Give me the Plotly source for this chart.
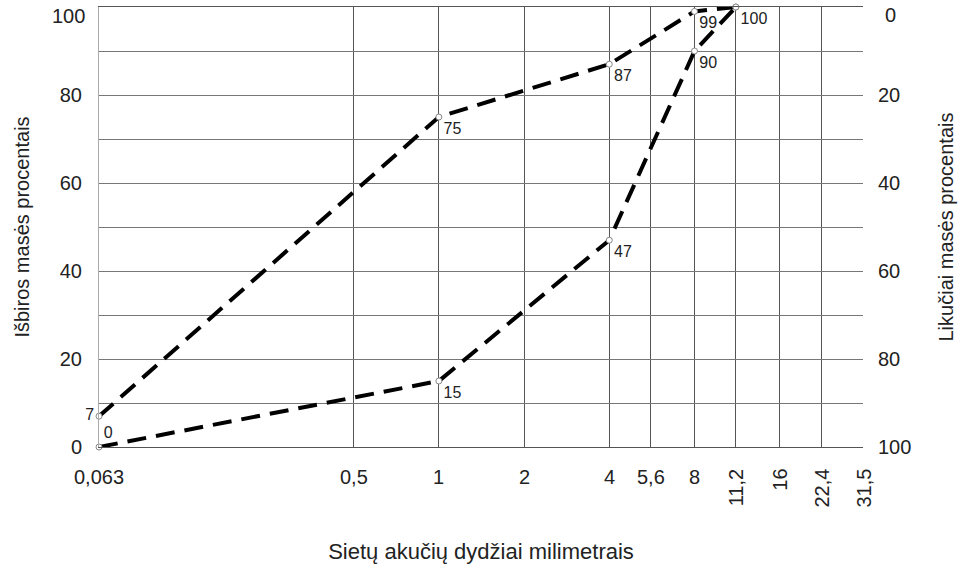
import numpy as np
import plotly.graph_objects as go

# Sieve sizes (mm) and tick labels
sieves = [0.063, 0.5, 1, 2, 4, 5.6, 8, 11.2, 16, 22.4, 31.5]
sieve_labels = ["0,063", "0,5", "1", "2", "4", "5,6", "8", "11,2", "16", "22,4", "31,5"]
rotated_labels = ["11,2", "16", "22,4", "31,5"]

# Upper grading limit (passing %)
upper_x = [0.063, 1, 4, 8, 11.2]
upper_y = [7, 75, 87, 99, 100]
upper_text = ["7", "75", "87", "99", "100"]
upper_pos = ["middle left", "bottom right", "bottom right", "bottom right", "bottom right"]

# Lower grading limit (passing %)
lower_x = [0.063, 1, 4, 8, 11.2]
lower_y = [0, 15, 47, 90, 100]
lower_text = ["0", "15", "47", "90", ""]
lower_pos = ["top right", "bottom right", "bottom right", "bottom right", "bottom right"]

left_ticks = [0, 20, 40, 60, 80, 100]
right_ticks = [0, 20, 40, 60, 80, 100]

font_family = "Liberation Sans, Arial, sans-serif"
txt_color = "#222222"
tick_size = 20

fig = go.Figure()

line_style = dict(color="black", width=4, dash="19px,10px")
marker_style = dict(symbol="circle", size=6, color="white", line=dict(color="#888888", width=1))

fig.add_trace(go.Scatter(
    x=upper_x, y=upper_y, mode="lines+markers+text",
    line=line_style, marker=marker_style,
    text=upper_text, textposition=upper_pos,
    textfont=dict(family=font_family, size=16, color=txt_color),
    showlegend=False, cliponaxis=False,
))
fig.add_trace(go.Scatter(
    x=lower_x, y=lower_y, mode="lines+markers+text",
    line=line_style, marker=marker_style,
    text=lower_text, textposition=lower_pos,
    textfont=dict(family=font_family, size=16, color=txt_color),
    showlegend=False, cliponaxis=False,
))
# invisible trace for right axis
fig.add_trace(go.Scatter(x=[1], y=[50], yaxis="y2", mode="markers",
                         marker=dict(opacity=0), showlegend=False, hoverinfo="skip"))

annotations = []
for v, lab in zip(sieves, sieve_labels):
    if lab in rotated_labels:
        annotations.append(dict(x=np.log10(v), xref="x", y=0, yref="paper",
                                text=lab, showarrow=False, textangle=-90,
                                xanchor="center", yanchor="top", yshift=-20,
                                font=dict(family=font_family, size=tick_size, color=txt_color)))
    else:
        annotations.append(dict(x=np.log10(v), xref="x", y=0, yref="paper",
                                text=lab, showarrow=False,
                                xanchor="center", yanchor="top", yshift=-17,
                                font=dict(family=font_family, size=tick_size, color=txt_color)))

# top tick labels (shifted down, as in the original)
annotations.append(dict(x=0, xref="paper", y=left_ticks[-1], yref="y",
                        text=str(left_ticks[-1]), showarrow=False,
                        xanchor="right", yanchor="middle", xshift=-12, yshift=-9,
                        font=dict(family=font_family, size=tick_size, color=txt_color)))
annotations.append(dict(x=1, xref="paper", y=100 - right_ticks[0], yref="y",
                        text=str(right_ticks[0]), showarrow=False,
                        xanchor="left", yanchor="middle", xshift=20, yshift=-8,
                        font=dict(family=font_family, size=tick_size, color=txt_color)))

fig.update_layout(
    width=961, height=573, autosize=False,
    margin=dict(l=99, r=98, t=7, b=126),
    paper_bgcolor="white", plot_bgcolor="white",
    font=dict(family=font_family, color=txt_color),
    xaxis=dict(
        type="log", range=[np.log10(0.063), np.log10(31.5)],
        tickvals=sieves, showticklabels=False,
        showgrid=True, gridcolor="#555555", gridwidth=1,
        showline=True, linecolor="#555555", linewidth=1, mirror=True,
        zeroline=False,
        title=dict(text="Sietų akučių dydžiai milimetrais",
                   font=dict(family=font_family, size=22, color=txt_color), standoff=96),
    ),
    yaxis=dict(
        range=[0, 100], tickvals=list(range(0, 101, 10)),
        ticktext=[str(v) if (v in left_ticks and v != left_ticks[-1]) else "" for v in range(0, 101, 10)],
        showgrid=True, gridcolor="#777777", gridwidth=1,
        showline=True, linecolor="#aaaaaa", linewidth=1,
        zeroline=False, ticks="", ticklabelstandoff=12,
        tickfont=dict(family=font_family, size=tick_size, color=txt_color),
        title=dict(text="Išbiros masės procentais",
                   font=dict(family=font_family, size=20, color=txt_color), standoff=24),
    ),
    yaxis2=dict(
        overlaying="y", side="right", range=[100, 0],
        tickvals=right_ticks, ticktext=["" if v == right_ticks[0] else str(v) for v in right_ticks],
        showgrid=False, zeroline=False, showline=False, ticks="",
        ticklabelstandoff=14,
        tickfont=dict(family=font_family, size=tick_size, color=txt_color),
        title=dict(text="Likučiai masės procentais",
                   font=dict(family=font_family, size=20, color=txt_color), standoff=28),
    ),
    annotations=annotations,
)

fig.write_html("out.html", config={"displayModeBar": False},
               post_script="document.body.style.margin='0';document.body.style.padding='0';")
